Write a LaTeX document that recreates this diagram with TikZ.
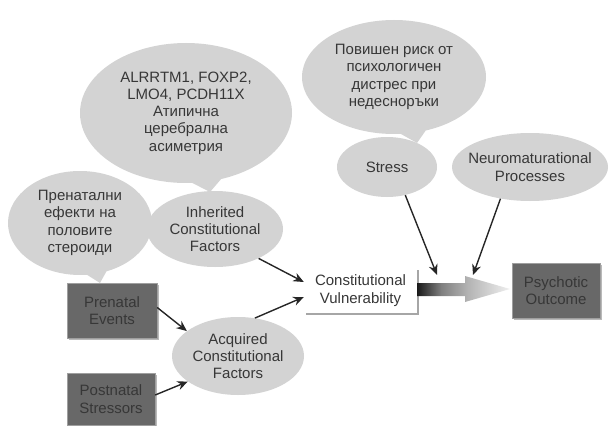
\documentclass[tikz,border=0pt]{standalone}
\usepackage{fontspec}
\setmainfont{Liberation Sans}
\usetikzlibrary{shapes.geometric,shapes.callouts,arrows.meta,shadows}
\definecolor{bubblegray}{RGB}{211,211,211}
\definecolor{boxgray}{RGB}{104,104,104}
\definecolor{inkgray}{RGB}{55,55,55}
\pgfdeclarehorizontalshading{arrowfade}{100bp}{color(0bp)=(black!90); color(25bp)=(black!90); color(38bp)=(black!50); color(52bp)=(black!30); color(75bp)=(black!6); color(100bp)=(black!6)}
\tikzstyle{every node}=[font=\fontsize{15}{17.3}\selectfont,text=inkgray,align=center,inner sep=0pt]
\tikzstyle{bubble}=[ellipse,fill=bubblegray]
\tikzstyle{talk}=[ellipse callout,fill=bubblegray,callout pointer arc=16]
\tikzstyle{darkbox}=[rectangle,fill=boxgray,draw=gray!75,thin,drop shadow={shadow xshift=1.5pt,shadow yshift=-1.5pt,fill=gray!55,opacity=1}]
\tikzstyle{whitebox}=[rectangle,fill=white,drop shadow={shadow xshift=1.5pt,shadow yshift=-1.5pt,fill=gray!70,opacity=1}]
\tikzstyle{arr}=[-{Stealth[length=10.5pt,width=9pt]},line width=1.4pt,draw=black!85]

\begin{document}
\begin{tikzpicture}[x=1pt,y=-1pt]
  \useasboundingbox (0,0) rectangle (609,425);

  \node[talk,minimum width=212pt,minimum height=140pt,callout absolute pointer={(210,192)}] (genes) at (186,113)
    {ALRRTM1, FOXP2,\\LMO4, PCDH11X\\Атипична\\церебрална\\асиметрия};
  \node[talk,minimum width=144pt,minimum height=104pt,callout absolute pointer={(100,283)}] (steroids) at (80,223)
    {Пренатални\\ефекти на\\половите\\стероиди};
  \node[talk,minimum width=184pt,minimum height=114pt,callout absolute pointer={(417,143)}] (risk) at (394,77)
    {Повишен риск от\\психологичен\\дистрес при\\недесноръки};

  \node[bubble,minimum width=136pt,minimum height=76pt] (inh) at (215,229) {Inherited\\Constitutional\\Factors};
  \node[bubble,minimum width=132pt,minimum height=78pt] (acq) at (238,356) {Acquired\\Constitutional\\Factors};
  \node[bubble,minimum width=100pt,minimum height=60pt] (stress) at (387,167) {Stress};
  \node[bubble,minimum width=156pt,minimum height=68pt,inner xsep=-10pt] (neuro) at (530,167) {Neuromaturational\\Processes};

  \node[darkbox,minimum width=90pt,minimum height=55pt] (pre) at (112,310.5) {Prenatal\\Events};
  \node[darkbox,minimum width=88pt,minimum height=52pt] (post) at (111,399) {Postnatal\\Stressors};
  \node[whitebox,minimum width=113pt,minimum height=45pt] (cv) at (360.5,290.5) {Constitutional\\Vulnerability};
  \node[darkbox,minimum width=88pt,minimum height=55pt] (psy) at (556,290.5) {Psychotic\\Outcome};

  \shade[shading=arrowfade] (417,283) -- (465,283) -- (465,276) -- (510,289)
    -- (465,302) -- (465,296) -- (417,296) -- cycle;
  \coordinate (stresstip) at (437,275);
  \coordinate (neurotip) at (473,275);

  \draw[arr] (inh.-34) -- ([yshift=8.5pt]cv.west);
  \draw[arr] (acq.66) -- ([yshift=-6.5pt]cv.west);
  \draw[arr] ([yshift=3pt]pre.east) -- (acq.154);
  \draw[arr] ([yshift=4pt]post.east) -- (acq.207);
  \draw[arr] (stress.-57) -- (stresstip);
  \draw[arr] (neuro.227) -- (neurotip);
\end{tikzpicture}
\end{document}
